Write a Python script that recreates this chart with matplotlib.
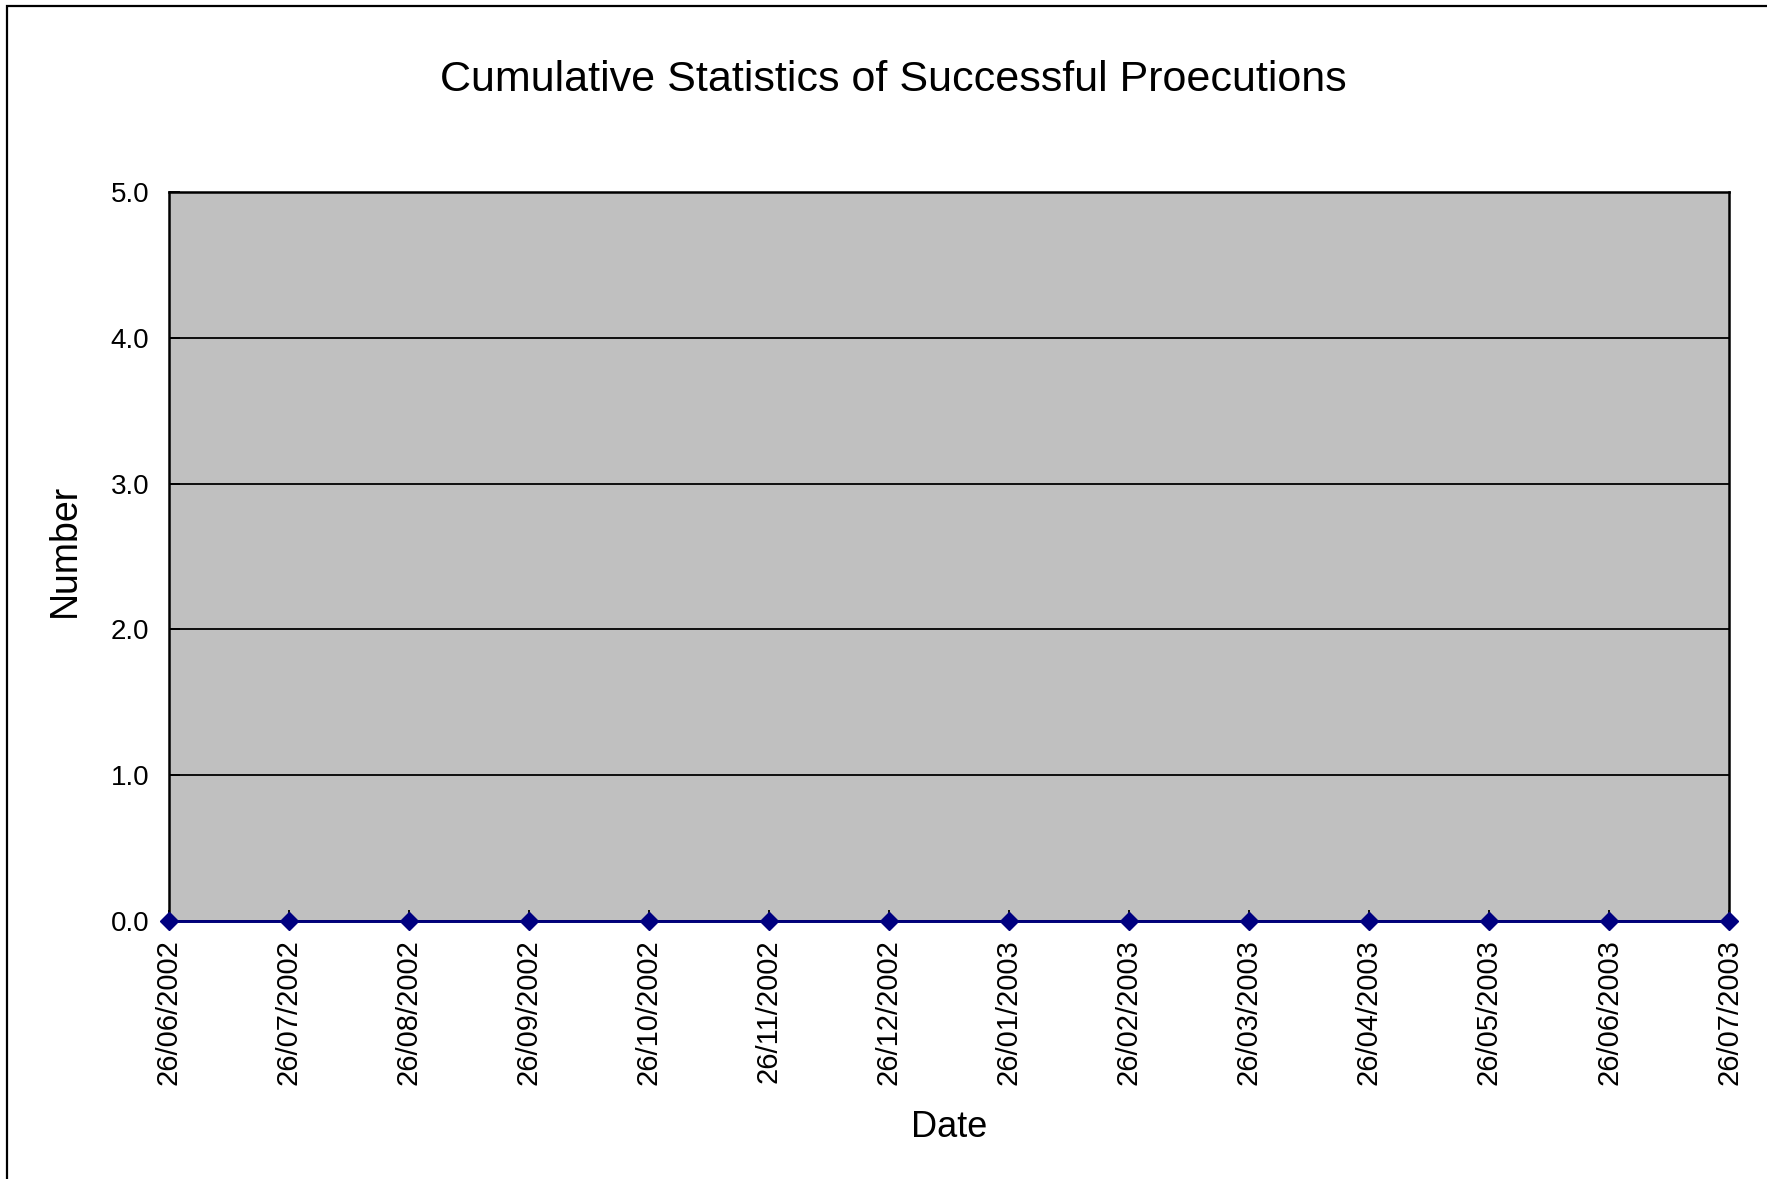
import matplotlib
matplotlib.use('Agg')
import matplotlib.pyplot as plt
from matplotlib.patches import Rectangle

# monthly cumulative count of successful prosecutions
dates = ['26/06/2002', '26/07/2002', '26/08/2002', '26/09/2002', '26/10/2002',
         '26/11/2002', '26/12/2002', '26/01/2003', '26/02/2003', '26/03/2003',
         '26/04/2003', '26/05/2003', '26/06/2003', '26/07/2003']
counts = [0, 0, 0, 0, 0, 0, 0, 0, 0, 0, 0, 0, 0, 0]
y_ticks = [0.0, 1.0, 2.0, 3.0, 4.0, 5.0]

plt.rcParams['font.family'] = ['Liberation Sans', 'DejaVu Sans']

fig = plt.figure(figsize=(17.67, 11.79), dpi=100)
ax = fig.add_axes([0.0956, 0.2188, 0.8829, 0.6184])

# outer chart frame
fig.patches.append(Rectangle((7 / 1767, -0.1), 1.2, 1.1 - 6 / 1179,
                             transform=fig.transFigure, fill=False,
                             edgecolor='black', linewidth=1.6))

ax.set_facecolor('#C0C0C0')
x = list(range(len(dates)))
ax.set_xlim(0, len(dates) - 1)
ax.set_ylim(0, 5)
ax.set_yticks(y_ticks)
ax.set_yticklabels([f'{v:.1f}' for v in y_ticks], fontsize=20)
ax.set_xticks(x)
ax.set_xticklabels(dates, rotation=90, fontsize=21)
ax.grid(axis='y', color='black', linewidth=1.3)
ax.set_axisbelow(True)
ax.tick_params(axis='both', direction='in', length=8, width=1.3, color='black')
ax.tick_params(axis='x', pad=13)
ax.tick_params(axis='y', pad=14)
for s in ax.spines.values():
    s.set_linewidth(1.8)
    s.set_color('black')

ax.plot(x, counts, color='#000080', linewidth=2, marker='D', markersize=9,
        clip_on=False, zorder=5)

fig.text(0.5055, 0.9325, 'Cumulative Statistics of Successful Proecutions',
         ha='center', va='center', fontsize=31)
fig.text(0.0365, 0.533, 'Number', rotation=90, ha='center', va='center',
         fontsize=27)
fig.text(0.537, 0.044, 'Date', ha='center', va='center', fontsize=26)

fig.savefig('out.png', dpi=100)
